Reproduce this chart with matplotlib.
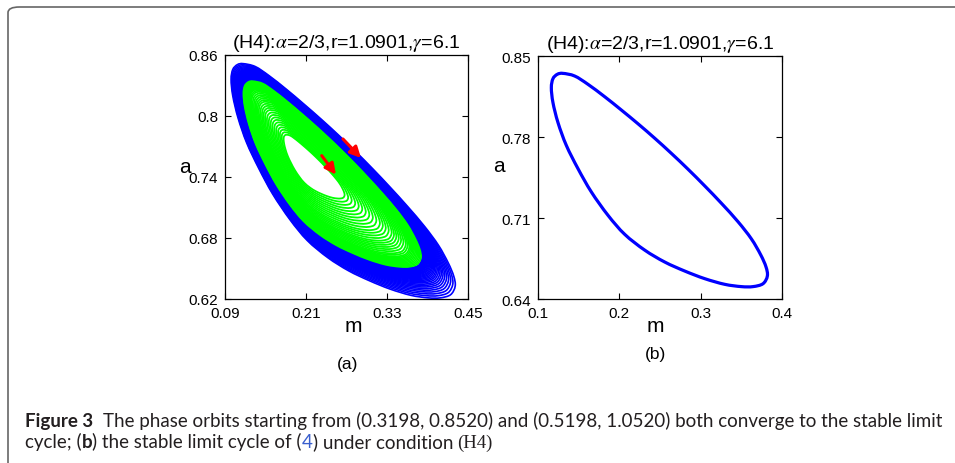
import numpy as np
import matplotlib
matplotlib.use("Agg")
import matplotlib.pyplot as plt
from matplotlib import font_manager
from matplotlib.patches import FancyBboxPatch, PathPatch
from matplotlib.path import Path

# limit cycle of system (4) under (H4), points taken clockwise from the top
cycle_m = [0.1307, 0.1451, 0.1615, 0.1820, 0.2025, 0.2230, 0.2434, 0.2639,
           0.2844, 0.3049, 0.3254, 0.3459, 0.3623, 0.3738, 0.3803, 0.3820,
           0.3766, 0.3643, 0.3500, 0.3295, 0.3049, 0.2803, 0.2557, 0.2311,
           0.2066, 0.1861, 0.1656, 0.1492, 0.1348, 0.1246, 0.1184, 0.1164,
           0.1184, 0.1238]
cycle_a = [0.8350, 0.8327, 0.8255, 0.8148, 0.8033, 0.7914, 0.7790, 0.7659,
           0.7522, 0.7378, 0.7228, 0.7068, 0.6920, 0.6782, 0.6678, 0.6599,
           0.6532, 0.6507, 0.6507, 0.6527, 0.6576, 0.6642, 0.6720, 0.6823,
           0.6959, 0.7123, 0.7325, 0.7526, 0.7728, 0.7924, 0.8097, 0.8226,
           0.8304, 0.8342]

# loop sizes relative to the limit cycle (outer orbit shrinks, inner orbit grows)
outer_scales = [1.25, 1.232, 1.215, 1.199, 1.184, 1.17, 1.157, 1.145, 1.134,
                1.123, 1.113, 1.104, 1.095, 1.087, 1.079, 1.072, 1.065, 1.058,
                1.052, 1.046, 1.04, 1.035, 1.03, 1.025, 1.02, 1.016, 1.012,
                1.008, 1.004, 1.0]
inner_scales = [0.34, 0.37, 0.40, 0.43, 0.46, 0.49, 0.52, 0.55, 0.58, 0.61,
                0.64, 0.665, 0.69, 0.715, 0.74, 0.76, 0.78, 0.80, 0.82, 0.84,
                0.86, 0.875, 0.89, 0.90, 0.91, 0.92, 0.93, 0.94, 0.95, 0.96,
                0.97, 0.98, 0.99]
outer_center = (0.186, 0.769)
inner_center = (0.208, 0.754)

# direction arrows on the two orbits
arrow_tails = [(0.2648, 0.7774), (0.2333, 0.7610)]
arrow_heads = [(0.2915, 0.7587), (0.2544, 0.7423)]

title = r"(H4):$\alpha$=2/3,r=1.0901,$\gamma$=6.1"
xticks_a = [0.09, 0.21, 0.33, 0.45]
yticks_a = [0.62, 0.68, 0.74, 0.8, 0.86]
xticks_b = [0.1, 0.2, 0.3, 0.4]
yticks_b = [0.64, 0.71, 0.78, 0.85]


def pick(names):
    for n in names:
        try:
            font_manager.findfont(n, fallback_to_default=False)
            return n
        except ValueError:
            pass
    return "DejaVu Sans"


def closed_curve(x, y):
    # smooth closed Bezier path through the given points
    pts = np.column_stack([x, y])
    n = len(pts)
    verts = [pts[0]]
    codes = [Path.MOVETO]
    for i in range(n):
        p0, p1 = pts[i - 1], pts[i]
        p2, p3 = pts[(i + 1) % n], pts[(i + 2) % n]
        verts += [p1 + (p2 - p0) / 6, p2 - (p3 - p1) / 6, p2]
        codes += [Path.CURVE4] * 3
    return Path(verts, codes)


plot_font = pick(["Liberation Sans", "Arimo", "DejaVu Sans"])
cap_font = pick(["Liberation Sans Narrow", "Lato", "Roboto", "Open Sans"])
plt.rcParams["font.family"] = plot_font
plt.rcParams["mathtext.fontset"] = "stix"

W, H = 955, 464
fig = plt.figure(figsize=(W / 100, H / 100), dpi=100)

# frame around the figure panel
frame = FancyBboxPatch((8 / W, -20 / H), 1.2, (H - 8 + 20) / H,
                       boxstyle="round,pad=0,rounding_size=0.012",
                       transform=fig.transFigure, fill=False,
                       edgecolor="#666666", linewidth=1.2)
fig.patches.append(frame)

ax1 = fig.add_axes([225 / W, 1 - 300 / H, 243 / W, 244 / H])
ax2 = fig.add_axes([538 / W, 1 - 300 / H, 244 / W, 243 / H])

cm = np.array(cycle_m)
ca = np.array(cycle_a)

for s in outer_scales:
    p = closed_curve(outer_center[0] + s * (cm - outer_center[0]),
                     outer_center[1] + s * (ca - outer_center[1]))
    ax1.add_patch(PathPatch(p, fill=False, edgecolor="#0000ff", lw=1.2))
for s in inner_scales:
    p = closed_curve(inner_center[0] + s * (cm - inner_center[0]),
                     inner_center[1] + s * (ca - inner_center[1]))
    ax1.add_patch(PathPatch(p, fill=False, edgecolor="#00ff00", lw=1.3))
for tail, head in zip(arrow_tails, arrow_heads):
    ax1.annotate("", xy=head, xytext=tail,
                 arrowprops=dict(arrowstyle="-|>", color="red", lw=2.2,
                                 mutation_scale=16, shrinkA=0, shrinkB=0))

ax2.add_patch(PathPatch(closed_curve(cm, ca), fill=False,
                        edgecolor="#0000ff", lw=2.3))

for ax, xt, yt, lab in [(ax1, xticks_a, yticks_a, ["0.09", "0.21", "0.33", "0.45"]),
                        (ax2, xticks_b, yticks_b, ["0.1", "0.2", "0.3", "0.4"])]:
    ax.set_xlim(xt[0], xt[-1])
    ax.set_ylim(yt[0], yt[-1])
    ax.set_xticks(xt)
    ax.set_xticklabels(lab)
    ax.set_yticks(yt)
    ax.set_yticklabels([("%g" % v) for v in yt])
    ax.tick_params(direction="in", top=True, right=True, length=4,
                   width=0.8, labelsize=11, pad=5)
    for sp in ax.spines.values():
        sp.set_linewidth(0.9)
    ax.set_title(title, fontsize=14, pad=6)
    ax.set_xlabel("m", fontsize=15)
    ax.set_ylabel("a", fontsize=15, rotation=0, ha="center", va="center")

ax1.xaxis.set_label_coords(0.527, -0.07)
ax1.yaxis.set_label_coords(-0.165, 0.545)
ax2.xaxis.set_label_coords(0.48, -0.07)
ax2.yaxis.set_label_coords(-0.16, 0.548)

fig.text(348 / W, 1 - 365 / H, "(a)", fontsize=12.5, ha="center", va="center")
fig.text(655 / W, 1 - 355 / H, "(b)", fontsize=12.5, ha="center", va="center")

# caption, placed piece by piece
renderer = fig.canvas.get_renderer()
text_col = "#231f20"


def width(s, **kw):
    t = fig.text(0, 0, s, **kw)
    w = t.get_window_extent(renderer).width
    t.remove()
    return w


line1 = [("Figure 3", dict(weight="bold"), 0),
         ("The phase orbits starting from (0.3198, 0.8520) and (0.5198, 1.0520) "
          "both converge to the stable limit", {}, 10)]
line2 = [("cycle; (", {}, 0), ("b", dict(weight="bold"), 0),
         (") the stable limit cycle of (", {}, 0), ("4", dict(color="#3a5fcd"), 0),
         (") under condition", {}, 0),
         ("(H4)", dict(family="Liberation Serif"), 4)]

base = 11
total = sum(width(s, family=cap_font, fontsize=base, **kw) + g
            for s, kw, g in line1)
size = base * 918 / total

for y, pieces in [(427, line1), (448, line2)]:
    x = 25
    for s, kw, gap in pieces:
        kw = dict(kw)
        fam = kw.pop("family", cap_font)
        col = kw.pop("color", text_col)
        x += gap
        t = fig.text(x / W, 1 - y / H, s, family=fam, fontsize=size,
                     color=col, va="baseline", ha="left", **kw)
        x += t.get_window_extent(renderer).width

fig.savefig("out.png", dpi=100)
